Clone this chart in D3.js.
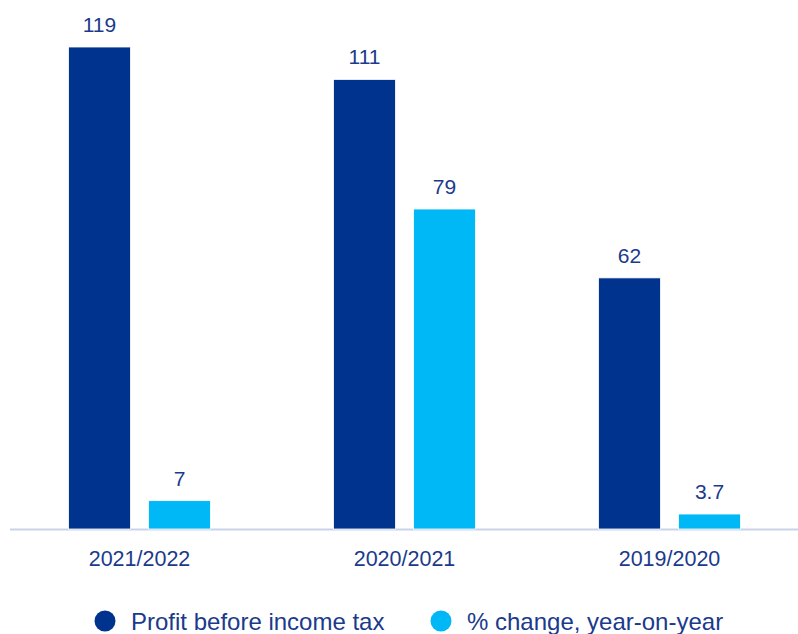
<!DOCTYPE html>
<html>
<head>
<meta charset="utf-8">
<script src="https://cdn.jsdelivr.net/npm/d3@7"></script>
<style>
  html, body { margin: 0; padding: 0; background: #fff; }
  svg { display: block; font-family: "Liberation Sans", Arial, sans-serif; }
</style>
</head>
<body>
<svg id="chart" width="798" height="634"></svg>
<script>
// Fiscal periods and the two series plotted for each
const categories = ["2021/2022", "2020/2021", "2019/2020"];
const profitBeforeTax = [119, 111, 62];
const pctChange = [7, 79, 3.7];
const seriesNames = ["Profit before income tax", "% change, year-on-year"];
const seriesColors = ["#00338d", "#00b8f5"];
const textColor = "#1b3a8b";

const svg = d3.select("#chart");
const baseY = 529;

const x0 = d3.scaleBand().domain(categories).range([7, 802]).paddingInner(0).paddingOuter(0);
const x1 = d3.scaleBand().domain([0, 1]).range([0, 142]).paddingInner(0.225);
const groupOffset = (x0.bandwidth() - 142) / 2;
const y = d3.scaleLinear().domain([0, 119]).range([baseY, 47]);

const rows = categories.map((c, i) => ({
  cat: c,
  vals: [profitBeforeTax[i], pctChange[i]]
}));

// baseline
svg.append("line")
  .attr("x1", 10).attr("x2", 798)
  .attr("y1", baseY + 0.5).attr("y2", baseY + 0.5)
  .attr("stroke", "#c9d3e8").attr("stroke-width", 2);

const groups = svg.selectAll("g.grp").data(rows).join("g")
  .attr("class", "grp")
  .attr("transform", d => `translate(${x0(d.cat) + groupOffset},0)`);

groups.selectAll("rect").data(d => d.vals.map((v, k) => ({ v, k }))).join("rect")
  .attr("x", d => x1(d.k))
  .attr("width", x1.bandwidth())
  .attr("y", d => y(d.v))
  .attr("height", d => baseY - y(d.v))
  .attr("fill", d => seriesColors[d.k])
  .attr("stroke", "#fff").attr("stroke-width", 0.8);

groups.selectAll("text.val").data(d => d.vals.map((v, k) => ({ v, k }))).join("text")
  .attr("class", "val")
  .attr("x", d => x1(d.k) + x1.bandwidth() / 2)
  .attr("y", d => y(d.v) - 15)
  .attr("text-anchor", "middle")
  .attr("font-size", 21)
  .attr("fill", textColor)
  .text(d => d.v);

// category axis labels
svg.selectAll("text.cat").data(categories).join("text")
  .attr("class", "cat")
  .attr("x", d => x0(d) + x0.bandwidth() / 2)
  .attr("y", 566)
  .attr("text-anchor", "middle")
  .attr("font-size", 21.5)
  .attr("fill", textColor)
  .text(d => d);

// legend
const legendX = [105, 441];
const legend = svg.selectAll("g.leg").data(seriesNames).join("g")
  .attr("class", "leg")
  .attr("transform", (d, i) => `translate(${legendX[i]},621)`);
legend.append("circle").attr("r", 10.5).attr("fill", (d, i) => seriesColors[i]);
legend.append("text")
  .attr("x", 26).attr("y", 8.5)
  .attr("font-size", 24)
  .attr("fill", textColor)
  .text(d => d);
</script>
</body>
</html>
